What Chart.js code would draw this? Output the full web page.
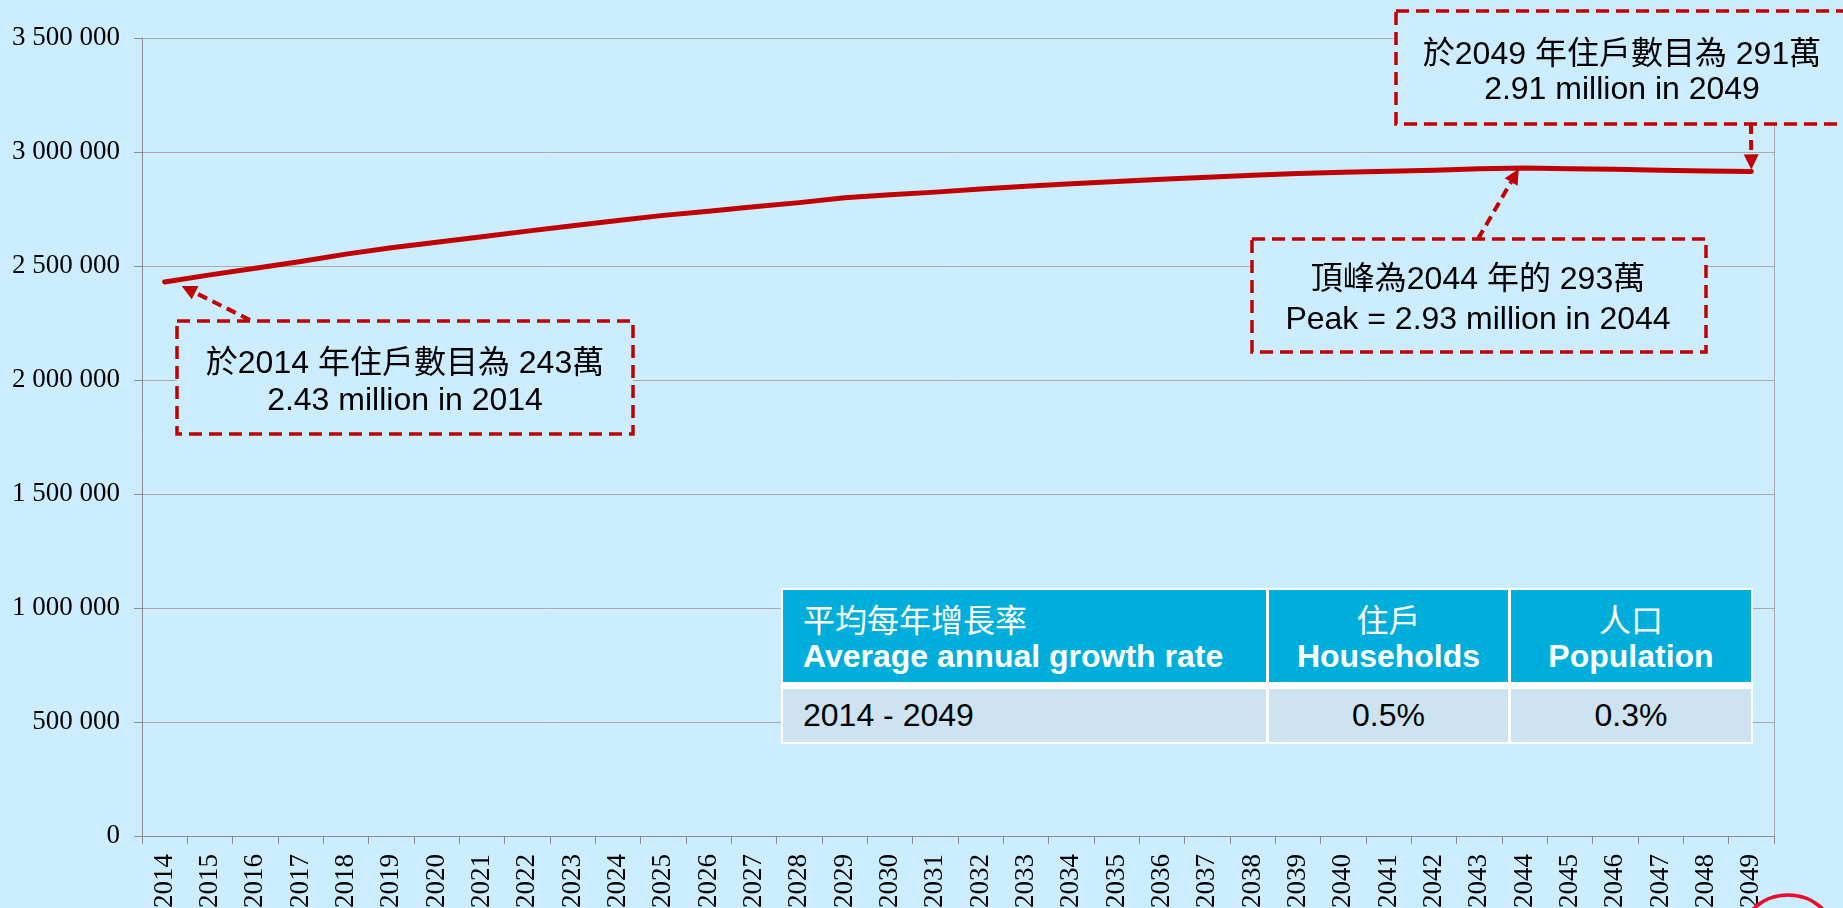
<!DOCTYPE html>
<html>
<head>
<meta charset="utf-8">
<script src="https://cdn.jsdelivr.net/npm/chart.js@4.4.1/dist/chart.umd.min.js"></script>
<style>
  body { margin: 0; background: #ccecff; }
  #wrap { position: relative; width: 1843px; height: 908px; overflow: hidden; background: #ccecff;
          font-family: "Liberation Sans", Arial, "Noto Sans CJK TC", sans-serif; }
  #chart { position: absolute; left: 0; top: 0; }
  .note { position: absolute; transform: translate(-50%, -50%); white-space: nowrap; font-size: 32px; color: #000; line-height: 1; }
  #table { position: absolute; left: 781px; top: 588px; width: 972px; height: 156px; background: #fff;
           display: grid; grid-template-columns: 483px 239px 240px; grid-template-rows: 92px 53px;
           column-gap: 3px; row-gap: 7px; padding: 2px; box-sizing: border-box; }
  #table div { box-sizing: border-box; }
  .th { background: #00aedb; color: #fff; font-size: 32px; line-height: 35px; padding-top: 14px; }
  .th b { font-weight: bold; }
  .td { background: #cde3f1; color: #000; font-size: 32px; line-height: 53px; }
  .left { text-align: left; padding-left: 20px; }
  .center { text-align: center; }
</style>
</head>
<body>
<div id="wrap">
  <canvas id="chart" width="1843" height="908"></canvas>

  <div class="note" style="left:405px; top:362px;">於2014 年住戶數目為 243萬</div>
  <div class="note" style="left:405px; top:399px;">2.43 million in 2014</div>

  <div class="note" style="left:1478px; top:278px;">頂峰為2044 年的 293萬</div>
  <div class="note" style="left:1478px; top:318px;">Peak = 2.93 million in 2044</div>

  <div class="note" style="left:1622px; top:53px;">於2049 年住戶數目為 291萬</div>
  <div class="note" style="left:1622px; top:88px;">2.91 million in 2049</div>

  <div id="table">
    <div class="th left">平均每年增長率<br><b>Average annual growth rate</b></div>
    <div class="th center">住戶<br><b>Households</b></div>
    <div class="th center">人口<br><b>Population</b></div>
    <div class="td left">2014 - 2049</div>
    <div class="td center">0.5%</div>
    <div class="td center">0.3%</div>
  </div>
</div>

<script>
const years = ['2014', '2015', '2016', '2017', '2018', '2019', '2020', '2021', '2022', '2023',
               '2024', '2025', '2026', '2027', '2028', '2029', '2030', '2031', '2032', '2033',
               '2034', '2035', '2036', '2037', '2038', '2039', '2040', '2041', '2042', '2043',
               '2044', '2045', '2046', '2047', '2048', '2049'];

const households = [2430000, 2461000, 2490000, 2520000, 2552000, 2580000, 2604000, 2628000, 2653000, 2677000,
                    2700000, 2722000, 2740000, 2760000, 2778000, 2799000, 2812000, 2824000, 2838000, 2850000,
                    2861000, 2871000, 2881000, 2889000, 2898000, 2906000, 2911000, 2916000, 2920000, 2926000,
                    2930000, 2927000, 2924000, 2920000, 2917000, 2915000];

const yTickValues = [0, 500000, 1000000, 1500000, 2000000, 2500000, 3000000, 3500000];

const red = '#c00000';
const bg = '#ccecff';
const gridGray = '#a9a9a9';
const axisGray = '#8c8c8c';

// dashed call-out boxes (pixel layout)
const boxes = [
    [177, 321, 633, 434],
    [1252, 239, 1706, 352],
    [1396, 11, 1870, 124]
];

// arrows from box edge to a data point (index into years)
const arrows = [
    { from: [250, 320], index: 0, dx: 17, dy: 4 },
    { from: [1478, 239], index: 30, dx: -6, dy: 1 },
    { from: [1751, 124], index: 35, dx: 0, dy: -2 }
];

function fmtSpaces(v) {
    return String(v).replace(/\B(?=(\d{3})+(?!\d))/g, ' ');
}

function drawArrow(ctx, x0, y0, x1, y1) {
    const ang = Math.atan2(y1 - y0, x1 - x0);
    const head = 15, half = 7.5;
    const bx = x1 - head * Math.cos(ang), by = y1 - head * Math.sin(ang);
    ctx.setLineDash([10, 6]);
    ctx.beginPath();
    ctx.moveTo(x0, y0);
    ctx.lineTo(bx, by);
    ctx.stroke();
    ctx.setLineDash([]);
    ctx.beginPath();
    ctx.moveTo(x1, y1);
    ctx.lineTo(bx + half * Math.sin(ang), by - half * Math.cos(ang));
    ctx.lineTo(bx - half * Math.sin(ang), by + half * Math.cos(ang));
    ctx.closePath();
    ctx.fill();
}

const overlay = {
    id: 'overlay',
    afterDraw(chart) {
        const { ctx, chartArea, scales } = chart;
        ctx.save();
        // right border of plot area
        ctx.strokeStyle = gridGray;
        ctx.lineWidth = 1;
        ctx.beginPath();
        ctx.moveTo(chartArea.right + 0.5, chartArea.top);
        ctx.lineTo(chartArea.right + 0.5, chartArea.bottom);
        ctx.stroke();

        // boxes
        ctx.strokeStyle = red;
        ctx.fillStyle = bg;
        ctx.lineWidth = 3.5;
        ctx.setLineDash([13, 7]);
        boxes.forEach(b => {
            ctx.fillRect(b[0], b[1], b[2] - b[0], b[3] - b[1]);
            ctx.strokeRect(b[0], b[1], b[2] - b[0], b[3] - b[1]);
        });

        // arrows
        ctx.fillStyle = red;
        ctx.lineWidth = 4;
        arrows.forEach(a => {
            const tx = scales.x.getPixelForValue(a.index) + a.dx;
            const ty = scales.y.getPixelForValue(households[a.index]) + a.dy;
            drawArrow(ctx, a.from[0], a.from[1], tx, ty);
        });

        // red circle in the corner
        ctx.setLineDash([]);
        ctx.strokeStyle = '#e8102c';
        ctx.lineWidth = 3.5;
        ctx.beginPath();
        ctx.arc(1788, 945, 50, 0, Math.PI * 2);
        ctx.stroke();
        ctx.restore();
    }
};

new Chart(document.getElementById('chart'), {
    type: 'line',
    data: {
        labels: years,
        datasets: [{
            data: households,
            borderColor: red,
            borderWidth: 5,
            borderCapStyle: 'round',
            pointRadius: 0,
            tension: 0,
            fill: false
        }]
    },
    options: {
        responsive: false,
        animation: false,
        devicePixelRatio: 1,
        layout: {
            padding: { left: 0, top: 38, right: 69, bottom: 0 }
        },
        plugins: {
            legend: { display: false },
            tooltip: { enabled: false }
        },
        scales: {
            x: {
                offset: true,
                grid: {
                    offset: true,
                    drawOnChartArea: false,
                    drawTicks: true,
                    tickLength: 8,
                    color: axisGray
                },
                border: { display: true, color: axisGray, width: 1 },
                ticks: {
                    autoSkip: false,
                    minRotation: 90,
                    maxRotation: 90,
                    padding: 10,
                    color: '#000',
                    font: { family: "'Liberation Serif', 'Times New Roman', serif", size: 27 }
                },
                afterFit(scale) { scale.height = 72; }
            },
            y: {
                min: 0,
                max: 3500000,
                afterBuildTicks(scale) {
                    scale.ticks = yTickValues.map(v => ({ value: v }));
                },
                grid: {
                    color: gridGray,
                    tickLength: 8,
                    tickColor: axisGray
                },
                border: { display: true, color: axisGray, width: 1 },
                ticks: {
                    padding: 14,
                    color: '#000',
                    font: { family: "'Liberation Serif', 'Times New Roman', serif", size: 27 },
                    callback: v => fmtSpaces(v)
                },
                afterFit(scale) { scale.width = 142; }
            }
        }
    },
    plugins: [overlay]
});
</script>
</body>
</html>
